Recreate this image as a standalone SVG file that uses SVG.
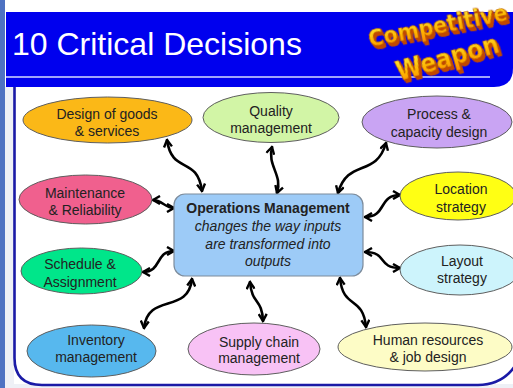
<svg xmlns="http://www.w3.org/2000/svg" width="513" height="388" viewBox="0 0 513 388">
  <defs>
    <style>
      .lbl { font-family: "Liberation Sans", Arial, sans-serif; font-size: 14px; fill: #222; text-anchor: middle; }
      .node { stroke: #5e5e5e; stroke-width: 1; }
      .conn { fill: none; stroke: #000; stroke-width: 2.6; stroke-linecap: round; marker-start: url(#head); marker-end: url(#head); }
      .logo { font-family: "DejaVu Sans Condensed", "DejaVu Sans", sans-serif; font-weight: bold; font-stretch: condensed; fill: url(#logoGrad); stroke: #b85a00; stroke-width: 0.6; filter: url(#extrude); }
    </style>
    <marker id="head" viewBox="0 0 10 10" refX="8.5" refY="5" markerWidth="10" markerHeight="10" markerUnits="userSpaceOnUse" orient="auto-start-reverse">
      <path d="M1.5,1 L8.5,5 L1.5,9" fill="none" stroke="#000" stroke-width="2.4" stroke-linejoin="miter"/>
    </marker>
    <linearGradient id="logoGrad" x1="0" y1="0" x2="0" y2="1">
      <stop offset="0" stop-color="#fff03a"/>
      <stop offset="0.6" stop-color="#ffb400"/>
      <stop offset="1" stop-color="#ff8a00"/>
    </linearGradient>
    <filter id="extrude" x="-20%" y="-50%" width="140%" height="220%">
      <feFlood flood-color="#c24800"/>
      <feComposite in2="SourceAlpha" operator="in" result="a"/>
      <feOffset in="a" dx="0.6" dy="1.2" result="o1"/>
      <feOffset in="a" dx="1.2" dy="2.4" result="o2"/>
      <feOffset in="a" dx="1.8" dy="3.6" result="o3"/>
      <feMerge>
        <feMergeNode in="o3"/>
        <feMergeNode in="o2"/>
        <feMergeNode in="o1"/>
        <feMergeNode in="SourceGraphic"/>
      </feMerge>
    </filter>
  </defs>

  <!-- background -->
  <rect x="0" y="0" width="513" height="388" fill="#ffffff"/>
  <rect x="5" y="86" width="9" height="302" fill="#eef0f6"/>
  <rect x="14" y="384" width="499" height="4" fill="#eef0f6"/>
  <rect x="0" y="0" width="5" height="388" fill="#4e72c2"/>

  <!-- header -->
  <path d="M6,12 H513 V68 Q513,87 494,87 H6 Z" fill="#0000ee"/>
  <line x1="6" y1="77" x2="490" y2="77" stroke="#d6ddff" stroke-width="1.6"/>
  <text x="12" y="55" font-family="'Liberation Sans', Arial, sans-serif" font-size="32" fill="#ffffff">10 Critical Decisions</text>

  <!-- logo -->
  <text class="logo" x="370" y="47" font-size="23" transform="rotate(-11 370 47)">Competitive</text>
  <text class="logo" x="399" y="81" font-size="26" transform="rotate(-16 399 81)">Weapon</text>

  <!-- frame -->
  <path d="M14.5,87 V358 Q14.5,385 42,385 H478 Q502,385 515,366" fill="none" stroke="#1a1aa6" stroke-width="2.6"/>

  <!-- connectors -->
  <g id="connectors">
    <path class="conn" d="M167,140 C172,175 197,155 202,191"/>
    <path class="conn" d="M272,147 C267,166 283,175 277,193"/>
    <path class="conn" d="M386,143 C376,178 348,158 338,193"/>
    <path class="conn" d="M153,200 C162,200 165,208 174,208"/>
    <path class="conn" d="M400,195 C378,195 387,217 365,217"/>
    <path class="conn" d="M174,251 C155,251 162,272 143,272"/>
    <path class="conn" d="M192,279 C188,315 148,292 144,328"/>
    <path class="conn" d="M250,282 C252,305 262,298 263,321"/>
    <path class="conn" d="M340,278 C343,310 363,295 366,327"/>
    <path class="conn" d="M365,252 C388,252 377,268 400,268"/>
  </g>

  <!-- nodes -->
  <g id="design">
    <ellipse class="node" cx="107.5" cy="120" rx="84.5" ry="23" fill="#fbb817"/>
    <text class="lbl" x="107" y="119">Design of goods<tspan x="107" dy="17">&amp; services</tspan></text>
  </g>
  <g id="quality">
    <ellipse class="node" cx="271" cy="117.5" rx="68" ry="25" fill="#d2f5a6"/>
    <text class="lbl" x="271" y="116">Quality<tspan x="271" dy="17">management</tspan></text>
  </g>
  <g id="process">
    <ellipse class="node" cx="437" cy="122" rx="75" ry="26" fill="#c9a4f3"/>
    <text class="lbl" x="439" y="119">Process &amp;<tspan x="439" dy="18">capacity design</tspan></text>
  </g>
  <g id="maintenance">
    <ellipse class="node" cx="85.5" cy="199.5" rx="66.5" ry="24.5" fill="#f0608e"/>
    <text class="lbl" x="85" y="198">Maintenance<tspan x="85" dy="17">&amp; Reliability</tspan></text>
  </g>
  <g id="location">
    <ellipse class="node" cx="458" cy="196" rx="58" ry="24" fill="#ffff14"/>
    <text class="lbl" x="461" y="194">Location<tspan x="461" dy="18">strategy</tspan></text>
  </g>
  <g id="operations">
    <rect x="174" y="194" width="189" height="82" rx="11" fill="#9dcbf7" stroke="#7d8c9c" stroke-width="1.2"/>
    <text class="lbl" x="268" y="213" font-weight="bold">Operations Management</text>
    <text class="lbl" x="268" y="231" font-style="italic">changes the way inputs<tspan x="268" dy="18">are transformed into</tspan><tspan x="268" dy="17">outputs</tspan></text>
  </g>
  <g id="schedule">
    <ellipse class="node" cx="81.5" cy="271" rx="60.5" ry="23" fill="#00e68a"/>
    <text class="lbl" x="80" y="269">Schedule &amp;<tspan x="80" dy="18">Assignment</tspan></text>
  </g>
  <g id="layout">
    <ellipse class="node" cx="460" cy="270" rx="60" ry="25" fill="#cdf4fc"/>
    <text class="lbl" x="462" y="266">Layout<tspan x="462" dy="17">strategy</tspan></text>
  </g>
  <g id="inventory">
    <ellipse class="node" cx="91.5" cy="351" rx="64.5" ry="26" fill="#57b8ee"/>
    <text class="lbl" x="96" y="345">Inventory<tspan x="96" dy="17">management</tspan></text>
  </g>
  <g id="supply">
    <ellipse class="node" cx="254" cy="349" rx="66" ry="26" fill="#f8c2f5"/>
    <text class="lbl" x="259" y="347">Supply chain<tspan x="259" dy="16">management</tspan></text>
  </g>
  <g id="human">
    <ellipse class="node" cx="425" cy="347" rx="87" ry="24" fill="#fdfcc6"/>
    <text class="lbl" x="428" y="345">Human resources<tspan x="428" dy="17">&amp; job design</tspan></text>
  </g>
</svg>
